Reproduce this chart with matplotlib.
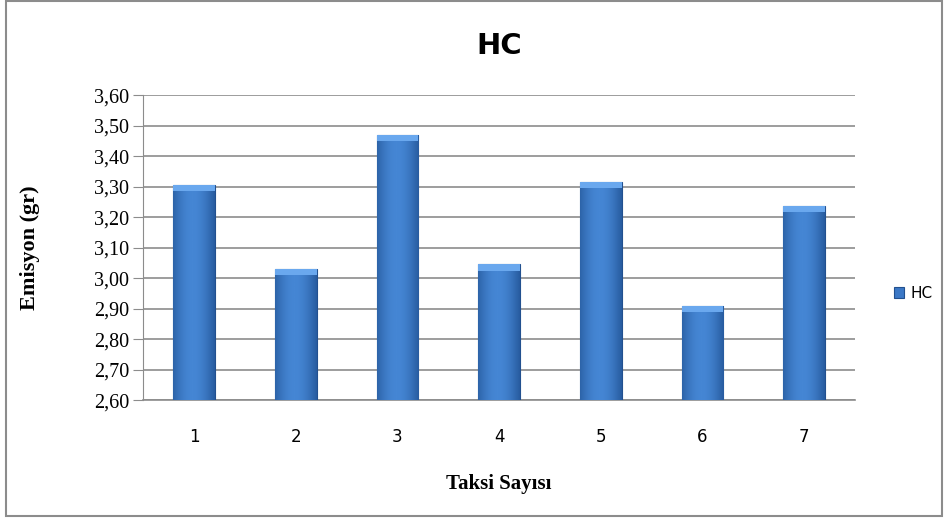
import numpy as np
import matplotlib.pyplot as plt
from matplotlib.ticker import FuncFormatter
from matplotlib.patches import Rectangle

# HC emission per taxi
taksi = ['1', '2', '3', '4', '5', '6', '7']
hc = [3.305, 3.03, 3.47, 3.045, 3.315, 2.91, 3.237]

fig = plt.figure(figsize=(9.48, 5.23), dpi=100)
fig.patch.set_facecolor('white')

# outer chart border
fig.patches.append(Rectangle((0.006, 0.013), 0.988, 0.985, transform=fig.transFigure,
                             fill=False, edgecolor='#8c8c8c', linewidth=1.5))

ax = fig.add_axes([0.151, 0.235, 0.751, 0.583])
x = np.arange(len(taksi))
bars = ax.bar(x, hc, width=0.41, bottom=0, color='#3b78c6',
              edgecolor='#22508f', linewidth=0.8, zorder=3, label='HC')

# horizontal shading inside each bar
grad = np.linspace(0, 1, 64)
shade = np.array([0.55 + 0.45 * np.sin(np.pi * (g * 0.85 + 0.1)) for g in grad])[None, :]
cmap = plt.matplotlib.colors.LinearSegmentedColormap.from_list('bar', ['#1f4f8f', '#4586d4'])
for b in bars:
    bx, by = b.get_x(), b.get_y()
    im = ax.imshow(shade, extent=[bx, bx + b.get_width(), 2.6, b.get_height()],
                   aspect='auto', cmap=cmap, vmin=0.5, vmax=1.0, zorder=3.5)
    im.set_clip_path(b)
    # lighter top cap
    ax.add_patch(Rectangle((bx, b.get_height() - 0.02), b.get_width(), 0.02,
                           facecolor='#6aa8ee', edgecolor='none', zorder=4))

ax.set_xlim(-0.5, len(taksi) - 0.5)
ax.set_ylim(2.6, 3.6)
ax.set_yticks(np.arange(2.6, 3.61, 0.1))
ax.yaxis.set_major_formatter(FuncFormatter(lambda v, p: f'{v:.2f}'.replace('.', ',')))
ax.set_xticks(x)
ax.set_xticklabels(taksi, fontsize=12, family='DejaVu Sans')
ax.tick_params(axis='x', length=0, pad=20)
ax.tick_params(axis='y', length=7, color='#8c8c8c', pad=3)
for lbl in ax.get_yticklabels():
    lbl.set_family('Liberation Serif')
    lbl.set_fontsize(14.5)

ax.grid(axis='y', color='#8c8c8c', linewidth=1.2, zorder=0)
for s in ['top', 'right']:
    ax.spines[s].set_visible(False)
ax.spines['left'].set_color('#8c8c8c')
ax.spines['bottom'].set_color('#8c8c8c')
ax.spines['bottom'].set_linewidth(1.2)

ax.set_title('HC', fontsize=21, fontweight='bold', family='DejaVu Sans', pad=30)
ax.set_ylabel('Emisyon (gr)', fontsize=16, fontweight='bold', family='Liberation Serif', labelpad=39)
ax.set_xlabel('Taksi Sayısı', fontsize=15, fontweight='bold', family='Liberation Serif', labelpad=20)

ax.legend(loc='center left', bbox_to_anchor=(1.035, 0.35), frameon=False,
          handlelength=0.7, handleheight=0.7, handletextpad=0.4, fontsize=11)

fig.savefig('out.png', dpi=100)
